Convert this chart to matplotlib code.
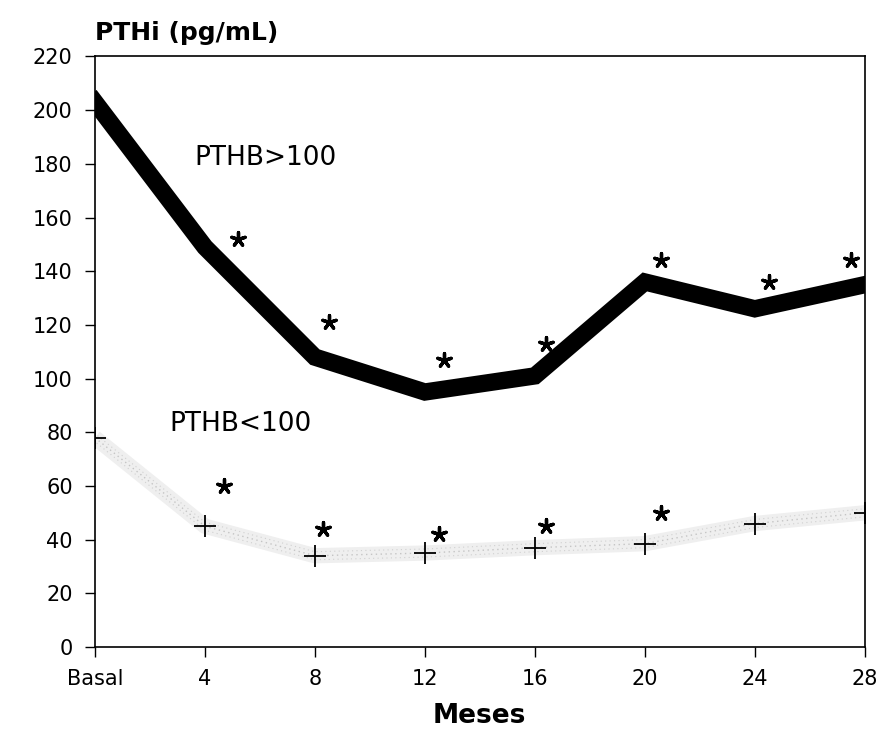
import matplotlib.pyplot as plt

# months and mean PTHi values
meses = [0, 4, 8, 12, 16, 20, 24, 28]
etiquetas = ["Basal", "4", "8", "12", "16", "20", "24", "28"]
pth_alto = [203, 149, 108, 95, 101, 136, 126, 135]
pth_bajo = [78, 45, 34, 35, 37, 38.5, 46, 50]

# significance asterisks (x position, value)
ast_alto_x = [5.2, 8.5, 12.7, 16.4, 20.6, 24.5, 27.5]
ast_alto_y = [152, 121, 107, 113, 144, 136, 144]
ast_bajo_x = [4.7, 8.3, 12.5, 16.4, 20.6]
ast_bajo_y = [60, 44, 42, 45, 50]

fig = plt.figure(figsize=(8.87, 7.29), dpi=100)
ax = fig.add_axes([0.107, 0.1125, 0.868, 0.81])

# light stippled gray band for the low group
ax.plot(meses, pth_bajo, color="#efefef", lw=11, solid_capstyle="butt", zorder=1)
ax.plot(meses, pth_bajo, color="#c4c4c4", lw=1.0, ls=(0, (1, 2.5)), zorder=1)
ax.plot(meses, [v + 1.5 for v in pth_bajo], color="#d0d0d0", lw=0.8, ls=(1, (1, 3)), zorder=1)
ax.plot(meses, [v - 1.5 for v in pth_bajo], color="#d0d0d0", lw=0.8, ls=(2, (1, 3)), zorder=1)
ax.plot(meses, pth_bajo, ls="none", marker="+", ms=16, mew=1.3, color="black", zorder=3)

# heavy black line for the high group
ax.plot(meses, pth_alto, color="black", lw=12.5, solid_joinstyle="miter", zorder=2)

ax.scatter(ast_alto_x, ast_alto_y, marker=(5, 2, 0), s=100, linewidths=2.4, color="black", zorder=4)
ax.scatter(ast_bajo_x, ast_bajo_y, marker=(5, 2, 0), s=100, linewidths=2.4, color="black", zorder=4)

ax.text(3.6, 182, "PTHB>100", fontsize=19, va="center", ha="left")
ax.text(2.7, 83, "PTHB<100", fontsize=19, va="center", ha="left")

ax.set_xlim(0, 28)
ax.set_ylim(0, 220)
ax.set_xticks(meses)
ax.set_xticklabels(etiquetas)
ax.set_yticks(range(0, 221, 20))
ax.tick_params(axis="both", labelsize=15, direction="out", length=7, width=1, pad=9)
for s in ax.spines.values():
    s.set_linewidth(1.2)

fig.text(0.107, 0.955, "PTHi (pg/mL)", fontsize=18, fontweight="bold", ha="left", va="center")
fig.text(0.54, 0.018, "Meses", fontsize=19, fontweight="bold", ha="center", va="center")

fig.savefig("out.png", dpi=100)
